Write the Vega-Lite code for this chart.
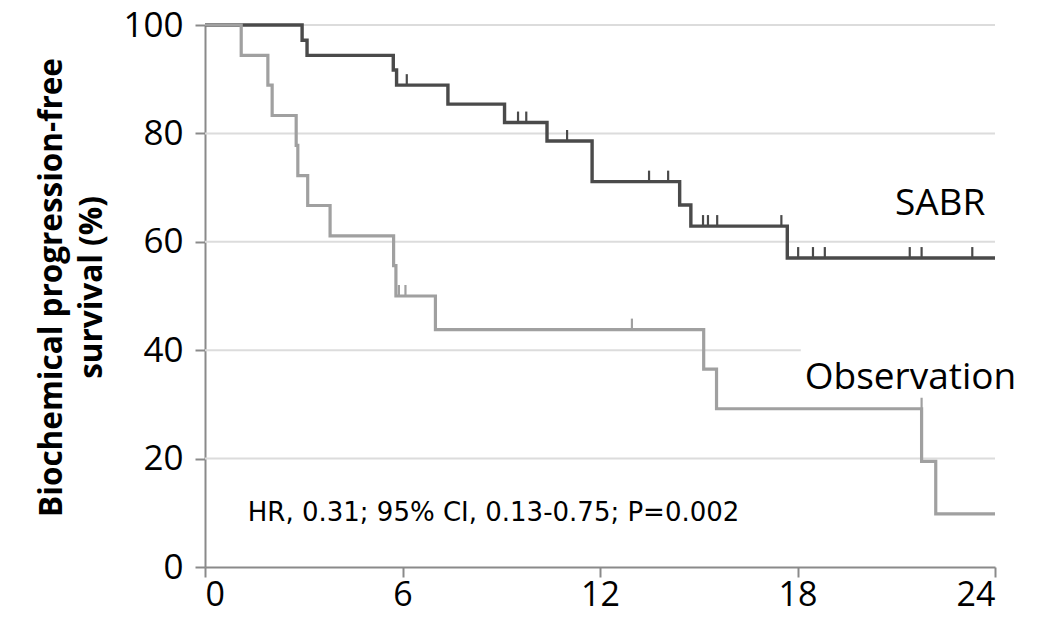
{
  "$schema": "https://vega.github.io/schema/vega-lite/v6.json",
  "width": 790,
  "height": 542,
  "autosize": "none",
  "padding": {"left": 205, "top": 25, "right": 43, "bottom": 50},
  "background": "white",
  "config": {"view": {"stroke": null}, "font": "Open Sans"},
  "datasets": {
    "grid": [
      {"level": 20, "from": 0, "to": 24},
      {"level": 40, "from": 0, "to": 18.1},
      {"level": 60, "from": 0, "to": 24},
      {"level": 80, "from": 0, "to": 24},
      {"level": 100, "from": 0, "to": 24}
    ],
    "km": [
      {"arm": "SABR", "month": 0, "surv": 100},
      {"arm": "SABR", "month": 2.95, "surv": 97.2},
      {"arm": "SABR", "month": 3.1, "surv": 94.4},
      {"arm": "SABR", "month": 5.72, "surv": 91.7},
      {"arm": "SABR", "month": 5.82, "surv": 88.9},
      {"arm": "SABR", "month": 7.38, "surv": 85.4},
      {"arm": "SABR", "month": 9.1, "surv": 82.0},
      {"arm": "SABR", "month": 10.39, "surv": 78.6},
      {"arm": "SABR", "month": 11.76, "surv": 71.1},
      {"arm": "SABR", "month": 14.42, "surv": 66.8},
      {"arm": "SABR", "month": 14.76, "surv": 62.9},
      {"arm": "SABR", "month": 17.69, "surv": 57.0},
      {"arm": "SABR", "month": 24, "surv": 57.0},
      {"arm": "Observation", "month": 0, "surv": 100},
      {"arm": "Observation", "month": 1.1, "surv": 94.4},
      {"arm": "Observation", "month": 1.91, "surv": 88.9},
      {"arm": "Observation", "month": 2.04, "surv": 83.3},
      {"arm": "Observation", "month": 2.77, "surv": 77.8},
      {"arm": "Observation", "month": 2.82, "surv": 72.2},
      {"arm": "Observation", "month": 3.12, "surv": 66.7},
      {"arm": "Observation", "month": 3.8, "surv": 61.1},
      {"arm": "Observation", "month": 5.73, "surv": 55.6},
      {"arm": "Observation", "month": 5.8, "surv": 50.0},
      {"arm": "Observation", "month": 7.0, "surv": 43.8},
      {"arm": "Observation", "month": 15.15, "surv": 36.5},
      {"arm": "Observation", "month": 15.54, "surv": 29.2},
      {"arm": "Observation", "month": 21.77, "surv": 19.5},
      {"arm": "Observation", "month": 22.2, "surv": 9.8},
      {"arm": "Observation", "month": 24, "surv": 9.8}
    ],
    "cens": [
      {"arm": "SABR", "month": 6.13, "surv": 88.9},
      {"arm": "SABR", "month": 9.51, "surv": 82.0},
      {"arm": "SABR", "month": 9.76, "surv": 82.0},
      {"arm": "SABR", "month": 11.0, "surv": 78.6},
      {"arm": "SABR", "month": 13.49, "surv": 71.1},
      {"arm": "SABR", "month": 14.07, "surv": 71.1},
      {"arm": "SABR", "month": 15.13, "surv": 62.9},
      {"arm": "SABR", "month": 15.28, "surv": 62.9},
      {"arm": "SABR", "month": 15.56, "surv": 62.9},
      {"arm": "SABR", "month": 17.51, "surv": 62.9},
      {"arm": "SABR", "month": 18.02, "surv": 57.0},
      {"arm": "SABR", "month": 18.47, "surv": 57.0},
      {"arm": "SABR", "month": 18.83, "surv": 57.0},
      {"arm": "SABR", "month": 21.41, "surv": 57.0},
      {"arm": "SABR", "month": 21.77, "surv": 57.0},
      {"arm": "SABR", "month": 23.31, "surv": 57.0},
      {"arm": "Observation", "month": 5.89, "surv": 50.0},
      {"arm": "Observation", "month": 6.09, "surv": 50.0},
      {"arm": "Observation", "month": 12.97, "surv": 43.8},
      {"arm": "Observation", "month": 21.77, "surv": 29.2}
    ],
    "labels": [
      {"label": "SABR", "month": 20.96, "surv": 64.9},
      {"label": "Observation", "month": 18.22, "surv": 32.8}
    ],
    "note": [
      {"label": "HR, 0.31; 95% CI, 0.13-0.75; P=0.002", "month": 1.3, "surv": 8.5}
    ]
  },
  "layer": [
    {
      "data": {"name": "grid"},
      "mark": {"type": "rule", "color": "#dcdcdc", "strokeWidth": 2},
      "encoding": {
        "x": {
          "field": "from", "type": "quantitative",
          "scale": {"domain": [0, 24], "nice": false},
          "axis": {
            "values": [0, 6, 12, 18, 24], "title": null, "grid": false,
            "domainColor": "#8a8a8a", "domainWidth": 2,
            "tickColor": "#8a8a8a", "tickWidth": 2, "tickSize": 10,
            "labelFontSize": 34, "labelColor": "black", "labelPadding": 1,
            "labelFont": "Open Sans"
          }
        },
        "x2": {"field": "to"},
        "y": {
          "field": "level", "type": "quantitative",
          "scale": {"domain": [0, 100], "nice": false},
          "axis": {
            "values": [0, 20, 40, 60, 80, 100],
            "title": ["Biochemical progression-free", "survival (%)"],
            "grid": false,
            "domainColor": "#8a8a8a", "domainWidth": 2,
            "tickColor": "#8a8a8a", "tickWidth": 2, "tickSize": 10,
            "labelFontSize": 35, "labelColor": "black", "labelPadding": 12,
            "labelFont": "Open Sans",
            "titleFont": "Open Sans", "titleFontSize": 31.5, "titleFontWeight": "bold",
            "titleColor": "black", "titlePadding": 14, "titleLineHeight": 40,
            "titleY": 262
          }
        }
      }
    },
    {
      "data": {"name": "km"},
      "transform": [{"filter": "datum.arm === 'SABR'"}],
      "mark": {"type": "line", "interpolate": "step-after", "strokeWidth": 3.4, "color": "#4a4a4a"},
      "encoding": {
        "x": {"field": "month", "type": "quantitative"},
        "y": {"field": "surv", "type": "quantitative"}
      }
    },
    {
      "data": {"name": "km"},
      "transform": [{"filter": "datum.arm === 'Observation'"}],
      "mark": {"type": "line", "interpolate": "step-after", "strokeWidth": 3.2, "color": "#a0a0a0"},
      "encoding": {
        "x": {"field": "month", "type": "quantitative"},
        "y": {"field": "surv", "type": "quantitative"}
      }
    },
    {
      "data": {"name": "cens"},
      "mark": {"type": "rule", "strokeWidth": 2.2, "y2Offset": -11},
      "encoding": {
        "x": {"field": "month", "type": "quantitative"},
        "y": {"field": "surv", "type": "quantitative"},
        "y2": {"field": "surv"},
        "color": {"field": "arm", "type": "nominal", "scale": {"domain": ["SABR", "Observation"], "range": ["#4a4a4a", "#a0a0a0"]}, "legend": null}
      }
    },
    {
      "data": {"name": "labels"},
      "mark": {"type": "text", "align": "left", "baseline": "alphabetic", "fontSize": 37, "font": "Open Sans", "color": "black"},
      "encoding": {
        "x": {"field": "month", "type": "quantitative"},
        "y": {"field": "surv", "type": "quantitative"},
        "text": {"field": "label"}
      }
    },
    {
      "data": {"name": "note"},
      "mark": {"type": "text", "align": "left", "baseline": "alphabetic", "fontSize": 26, "font": "DejaVu Sans", "color": "black"},
      "encoding": {
        "x": {"field": "month", "type": "quantitative"},
        "y": {"field": "surv", "type": "quantitative"},
        "text": {"field": "label"}
      }
    }
  ]
}
